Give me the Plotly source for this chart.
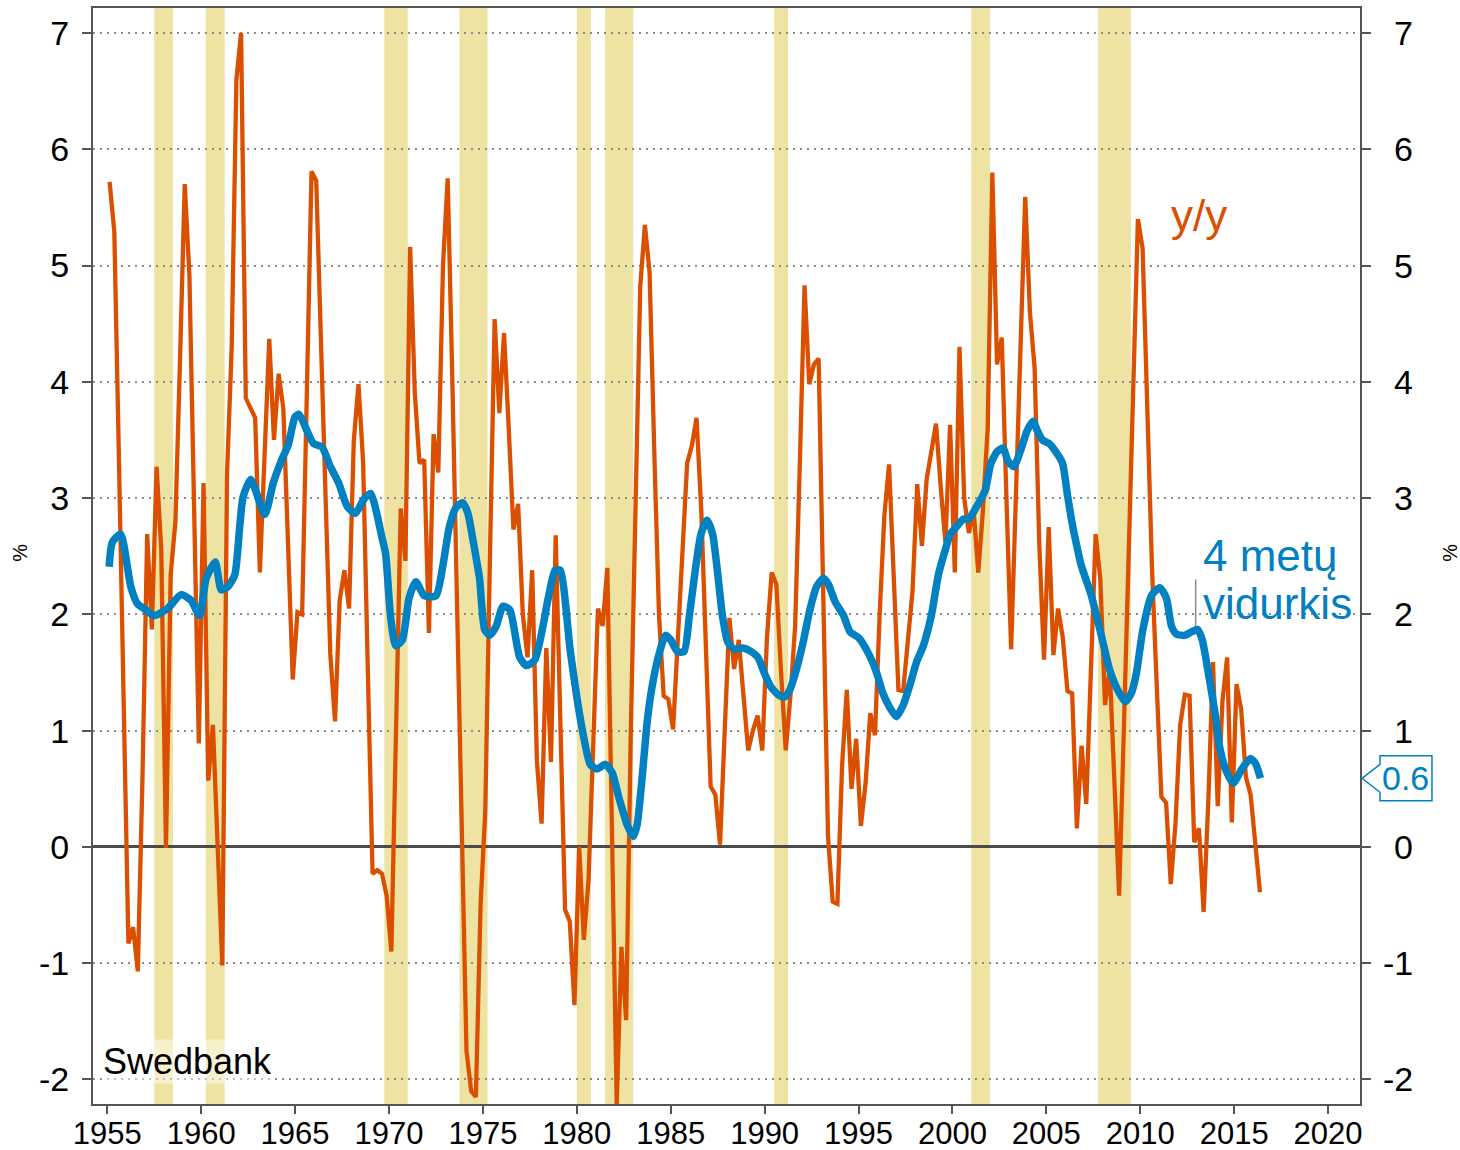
import plotly.graph_objects as go

# ---------------- data ----------------
# y/y growth, quarterly, 1955Q1 .. 2016Q2 (one row per year, four quarters)
yy_values = [
    5.72, 5.29, 3.3, 1.2,      # 1955
    -0.83, -0.69, -1.07, 0.6,  # 1956
    2.69, 1.87, 3.27, 2.55,    # 1957
    -0.01, 2.34, 2.79, 4.2,    # 1958
    5.70, 4.91, 2.9, 0.89,     # 1959
    3.13, 0.57, 1.05, 0.0,     # 1960
    -1.02, 3.2, 4.3, 6.6,      # 1961
    7.0, 3.86, 3.77, 3.69,     # 1962
    2.36, 3.4, 4.37, 3.5,      # 1963
    4.07, 3.77, 2.6, 1.44,     # 1964
    2.02, 2.0, 3.9, 5.81,      # 1965
    5.73, 4.5, 3.0, 1.66,      # 1966
    1.08, 2.12, 2.38, 2.05,    # 1967
    3.49, 3.98, 3.30, 1.5,     # 1968
    -0.23, -0.2, -0.23, -0.42, # 1969
    -0.90, 1.0, 2.91, 2.46,    # 1970
    5.16, 3.90, 3.30, 3.33,    # 1971
    1.84, 3.55, 3.22, 5.0,     # 1972
    5.75, 4.0, 2.2, 0.3,       # 1973
    -1.75, -2.1, -2.15, -0.5,  # 1974
    0.3, 2.5, 4.54, 3.73,      # 1975
    4.42, 3.6, 2.73, 2.95,     # 1976
    2.0, 1.63, 2.38, 0.74,     # 1977
    0.20, 1.71, 0.73, 2.68,    # 1978
    1.0, -0.54, -0.64, -1.36,  # 1979
    0.0, -0.80, -0.28, 0.9,    # 1980
    2.05, 1.90, 2.40, 0.1,     # 1981
    -2.21, -0.86, -1.49, 1.0,  # 1982
    3.0, 4.81, 5.35, 4.94,     # 1983
    3.4, 2.0, 1.30, 1.27,      # 1984
    1.01, 1.83, 2.5, 3.3,      # 1985
    3.45, 3.69, 2.9, 1.8,      # 1986
    0.52, 0.45, 0.02, 1.0,     # 1987
    1.97, 1.53, 1.78, 1.3,     # 1988
    0.83, 1.0, 1.13, 0.83,     # 1989
    1.8, 2.36, 2.26, 1.5,      # 1990
    0.83, 1.3, 1.9, 3.3,       # 1991
    4.83, 3.98, 4.15, 4.2,     # 1992
    2.0, 0.09, -0.47, -0.49,   # 1993
    0.7, 1.35, 0.50, 0.93,     # 1994
    0.18, 0.55, 1.15, 0.96,    # 1995
    2.0, 2.85, 3.29, 2.3,      # 1996
    1.35, 1.34, 1.75, 2.2,     # 1997
    3.12, 2.59, 3.16, 3.4,     # 1998
    3.64, 3.1, 2.62, 3.63,     # 1999
    2.36, 4.30, 3.0, 2.7,      # 2000
    2.9, 2.36, 2.9, 3.6,       # 2001
    5.80, 4.15, 4.38, 3.0,     # 2002
    1.70, 3.0, 4.3, 5.59,      # 2003
    4.6, 4.12, 2.6, 1.61,      # 2004
    2.75, 1.65, 2.05, 1.80,    # 2005
    1.34, 1.32, 0.16, 0.87,    # 2006
    0.37, 1.5, 2.69, 2.3,      # 2007
    1.22, 1.53, 0.55, -0.42,   # 2008
    1.0, 2.5, 3.9, 5.40,       # 2009
    5.15, 3.6, 2.4, 1.4,       # 2010
    0.43, 0.38, -0.32, 0.2,    # 2011
    1.05, 1.31, 1.30, 0.04,    # 2012
    0.16, -0.56, 0.4, 1.59,    # 2013
    0.35, 1.25, 1.63, 0.21,    # 2014
    1.40, 1.18, 0.60, 0.45,    # 2015
    0.05, -0.39,               # 2016
]
yy_start_year = 1955

# 4-year average (read at points along the curve)
avg_years = [
    1955.1, 1955.27, 1955.71, 1956.25, 1956.61, 1956.96, 1957.5, 1958.21, 1958.93, 1959.46,
    1959.91, 1960.27, 1960.75, 1961.07, 1961.43, 1961.79, 1962.05, 1962.23, 1962.64, 1963.39,
    1963.84, 1964.29, 1964.64, 1965.0, 1965.21, 1965.63, 1965.98, 1966.43, 1966.88, 1967.32,
    1967.77, 1968.21, 1968.66, 1969.02, 1969.64, 1969.82, 1970.09, 1970.36, 1970.71, 1971.07,
    1971.43, 1971.88, 1972.5, 1972.86, 1973.21, 1973.57, 1973.93, 1974.2, 1974.46, 1974.82,
    1975.09, 1975.36, 1975.71, 1976.07, 1976.43, 1976.96, 1977.32, 1977.77, 1978.48, 1978.84,
    1979.11, 1979.64, 1980.0, 1980.36, 1980.71, 1981.07, 1981.52, 1981.88, 1982.23, 1982.68,
    1983.0, 1983.21, 1983.48, 1983.75, 1984.02, 1984.38, 1984.73, 1985.0, 1985.36, 1985.71,
    1985.98, 1986.25, 1986.61, 1986.93, 1987.23, 1987.77, 1988.04, 1988.39, 1988.84, 1989.29,
    1989.64, 1990.0, 1990.36, 1990.8, 1991.07, 1991.34, 1991.7, 1992.05, 1992.41, 1992.77,
    1993.13, 1993.39, 1993.75, 1994.2, 1994.55, 1995.0, 1995.54, 1995.98, 1996.3, 1996.66,
    1997.02, 1997.38, 1997.73, 1998.09, 1998.45, 1998.89, 1999.25, 1999.61, 1999.88, 2000.14,
    2000.59, 2000.86, 2001.3, 2001.75, 2002.05, 2002.38, 2002.7, 2002.95, 2003.27, 2003.63,
    2003.98, 2004.29, 2004.52, 2004.79, 2005.14, 2005.5, 2005.86, 2006.13, 2006.39, 2006.66,
    2006.84, 2007.38, 2007.91, 2008.36, 2008.8, 2009.2, 2009.52, 2009.79, 2010.14, 2010.59,
    2011.04, 2011.39, 2011.66, 2011.93, 2012.38, 2012.73, 2013.05, 2013.3, 2013.63, 2013.98,
    2014.25, 2014.61, 2014.96, 2015.41, 2015.86, 2016.13, 2016.4,
]
avg_values = [
    2.41, 2.62, 2.69, 2.24, 2.09, 2.05, 1.99, 2.05, 2.17, 2.12,
    1.99, 2.31, 2.45, 2.21, 2.24, 2.34, 2.75, 3.01, 3.16, 2.86,
    3.13, 3.33, 3.46, 3.70, 3.72, 3.58, 3.47, 3.44, 3.27, 3.13,
    2.93, 2.87, 2.99, 3.04, 2.65, 2.52, 1.97, 1.73, 1.78, 2.14,
    2.28, 2.16, 2.16, 2.41, 2.75, 2.92, 2.96, 2.87, 2.65, 2.31,
    1.87, 1.82, 1.90, 2.07, 2.04, 1.63, 1.56, 1.61, 2.14, 2.38,
    2.38, 1.70, 1.29, 0.95, 0.71, 0.67, 0.71, 0.64, 0.43, 0.19,
    0.09, 0.19, 0.60, 1.08, 1.39, 1.66, 1.82, 1.78, 1.68, 1.68,
    1.97, 2.31, 2.69, 2.81, 2.69, 1.97, 1.76, 1.70, 1.71, 1.68,
    1.63, 1.49, 1.37, 1.30, 1.29, 1.35, 1.53, 1.76, 2.04, 2.24,
    2.31, 2.26, 2.11, 1.99, 1.85, 1.80, 1.66, 1.49, 1.32, 1.20,
    1.12, 1.22, 1.39, 1.59, 1.73, 2.0, 2.34, 2.55, 2.69, 2.74,
    2.82, 2.82, 2.93, 3.07, 3.30, 3.40, 3.43, 3.32, 3.27, 3.41,
    3.58, 3.66, 3.58, 3.50, 3.47, 3.40, 3.30, 3.02, 2.77, 2.56,
    2.43, 2.17, 1.83, 1.53, 1.35, 1.25, 1.32, 1.49, 1.87, 2.16,
    2.23, 2.14, 1.90, 1.83, 1.82, 1.85, 1.87, 1.78, 1.49, 1.15,
    0.84, 0.64, 0.55, 0.67, 0.76, 0.72, 0.59,
]

# recession periods (shaded)
rec_start = [1957.5, 1960.25, 1969.75, 1973.75, 1980.0, 1981.5, 1990.5, 2001.0, 2007.75]
rec_end = [1958.5, 1961.25, 1971.0, 1975.25, 1980.75, 1983.0, 1991.25, 2002.0, 2009.5]

x_ticks = [1955, 1960, 1965, 1970, 1975, 1980, 1985, 1990, 1995, 2000, 2005, 2010, 2015, 2020]
y_ticks = [-2, -1, 0, 1, 2, 3, 4, 5, 6, 7]
y_tick_text = ["-2", "-1", "0", "1", "2", "3", "4", "5", "6", "7"]

label_yy = "y/y"
label_avg_1 = "4 metų"
label_avg_2 = "vidurkis"
source_text = "Swedbank"
unit_text = "%"

# ---------------- style ----------------
ORANGE = "#DA5000"
BLUE = "#0180C2"
SHADE = "#EFE3A4"
AXIS = "#555555"
FONT = "Liberation Sans, Arial, sans-serif"
X_RANGE = [1954.24, 2021.70]
Y_RANGE = [-2.211, 7.215]

yy_years = [yy_start_year + 0.125 + 0.25 * i for i in range(len(yy_values))]

fig = go.Figure()

fig.add_trace(go.Scatter(
    x=yy_years, y=yy_values, mode="lines",
    line=dict(color=ORANGE, width=4.3), showlegend=False, hoverinfo="skip",
))
fig.add_trace(go.Scatter(
    x=avg_years, y=avg_values, mode="lines",
    line=dict(color=BLUE, width=7.5, shape="spline", smoothing=0.6),
    showlegend=False, hoverinfo="skip",
))
# dummy trace to activate the right-hand axis
fig.add_trace(go.Scatter(x=[avg_years[0]], y=[avg_values[0]], yaxis="y2", mode="lines",
                         showlegend=False, hoverinfo="skip", line=dict(width=0)))

for s, e in zip(rec_start, rec_end):
    fig.add_shape(type="rect", xref="x", yref="paper", x0=s, x1=e, y0=0, y1=1,
                  fillcolor=SHADE, line=dict(width=0), layer="below")

axis_common = dict(showline=True, linecolor=AXIS, linewidth=2, ticks="outside",
                   tickcolor=AXIS, tickwidth=2, automargin=False)

fig.update_layout(
    width=1460, height=1150, autosize=False,
    margin=dict(l=93, r=100, t=8, b=46, autoexpand=False),
    paper_bgcolor="white", plot_bgcolor="white",
    font=dict(family=FONT, color="black"),
    xaxis=dict(range=X_RANGE, tickvals=x_ticks, ticktext=[str(t) for t in x_ticks],
               showgrid=False, zeroline=False, mirror=True, ticklen=8,
               ticklabelstandoff=-7, tickfont=dict(size=31), **axis_common),
    yaxis=dict(range=Y_RANGE, tickvals=y_ticks, ticktext=y_tick_text,
               showgrid=True, gridcolor="#8a8a8a", gridwidth=2, griddash="2px,5px",
               zeroline=True, zerolinecolor="#4a4a4a", zerolinewidth=3,
               ticklen=9, tickfont=dict(size=34), ticklabelstandoff=6, **axis_common),
    yaxis2=dict(range=Y_RANGE, overlaying="y", side="right", tickvals=y_ticks,
                showticklabels=False, showgrid=False, zeroline=False, ticklen=9,
                **axis_common),
)

# right-hand tick labels (right aligned)
for v, t in zip(y_ticks, y_tick_text):
    fig.add_annotation(x=1.0434, xref="paper", y=v, yref="y", text=t, showarrow=False,
                       xanchor="right", yanchor="middle", font=dict(size=34, color="black"))

# unit labels
for xp in (-0.0576, 1.071):
    fig.add_annotation(x=xp, xref="paper", y=0.503, yref="paper", text=unit_text,
                       showarrow=False, textangle=-90, xanchor="center", yanchor="middle",
                       font=dict(size=20, color="black"))

# series labels
fig.add_annotation(x=2013.15, y=5.43, xref="x", yref="y", text=label_yy, showarrow=False,
                   xanchor="center", font=dict(size=44, color=ORANGE))
fig.add_annotation(x=2013.25, y=2.51, xref="x", yref="y", text=label_avg_1, showarrow=False,
                   xanchor="left", font=dict(size=44, color=BLUE))
fig.add_annotation(x=2013.25, y=2.09, xref="x", yref="y", text=label_avg_2, showarrow=False,
                   xanchor="left", font=dict(size=44, color=BLUE))
# leader line to the average curve
fig.add_shape(type="line", xref="x", yref="y", x0=2012.95, x1=2012.95, y0=1.9, y1=2.3,
              line=dict(color="#8a8a8a", width=1.5))

# source label
fig.add_annotation(x=0.006, xref="paper", y=-1.845, yref="y", text=source_text,
                   showarrow=False, xanchor="left", yanchor="middle",
                   bgcolor="rgba(255,255,255,0.45)", font=dict(size=36, color="black"))

# last-value tag on right axis
last_v = avg_values[-1]
tip_x, box_l, box_r = 1.0016, 1.0158, 1.0568
hb, ht = 0.194, 0.12
path = (f"M {tip_x},{last_v} L {box_l},{last_v + ht} L {box_l},{last_v + hb} "
        f"L {box_r},{last_v + hb} L {box_r},{last_v - hb} L {box_l},{last_v - hb} "
        f"L {box_l},{last_v - ht} Z")
fig.add_shape(type="path", xref="paper", yref="y", path=path,
              line=dict(color=BLUE, width=1.5), fillcolor="white", layer="above")
fig.add_annotation(x=(box_l + box_r) / 2, xref="paper", y=last_v, yref="y",
                   text=f"{last_v:.1f}", showarrow=False, xanchor="center", yanchor="middle",
                   font=dict(size=34, color=BLUE))

fig.write_html("out.html", config={"displayModeBar": False},
               post_script="document.body.style.margin='0';")
